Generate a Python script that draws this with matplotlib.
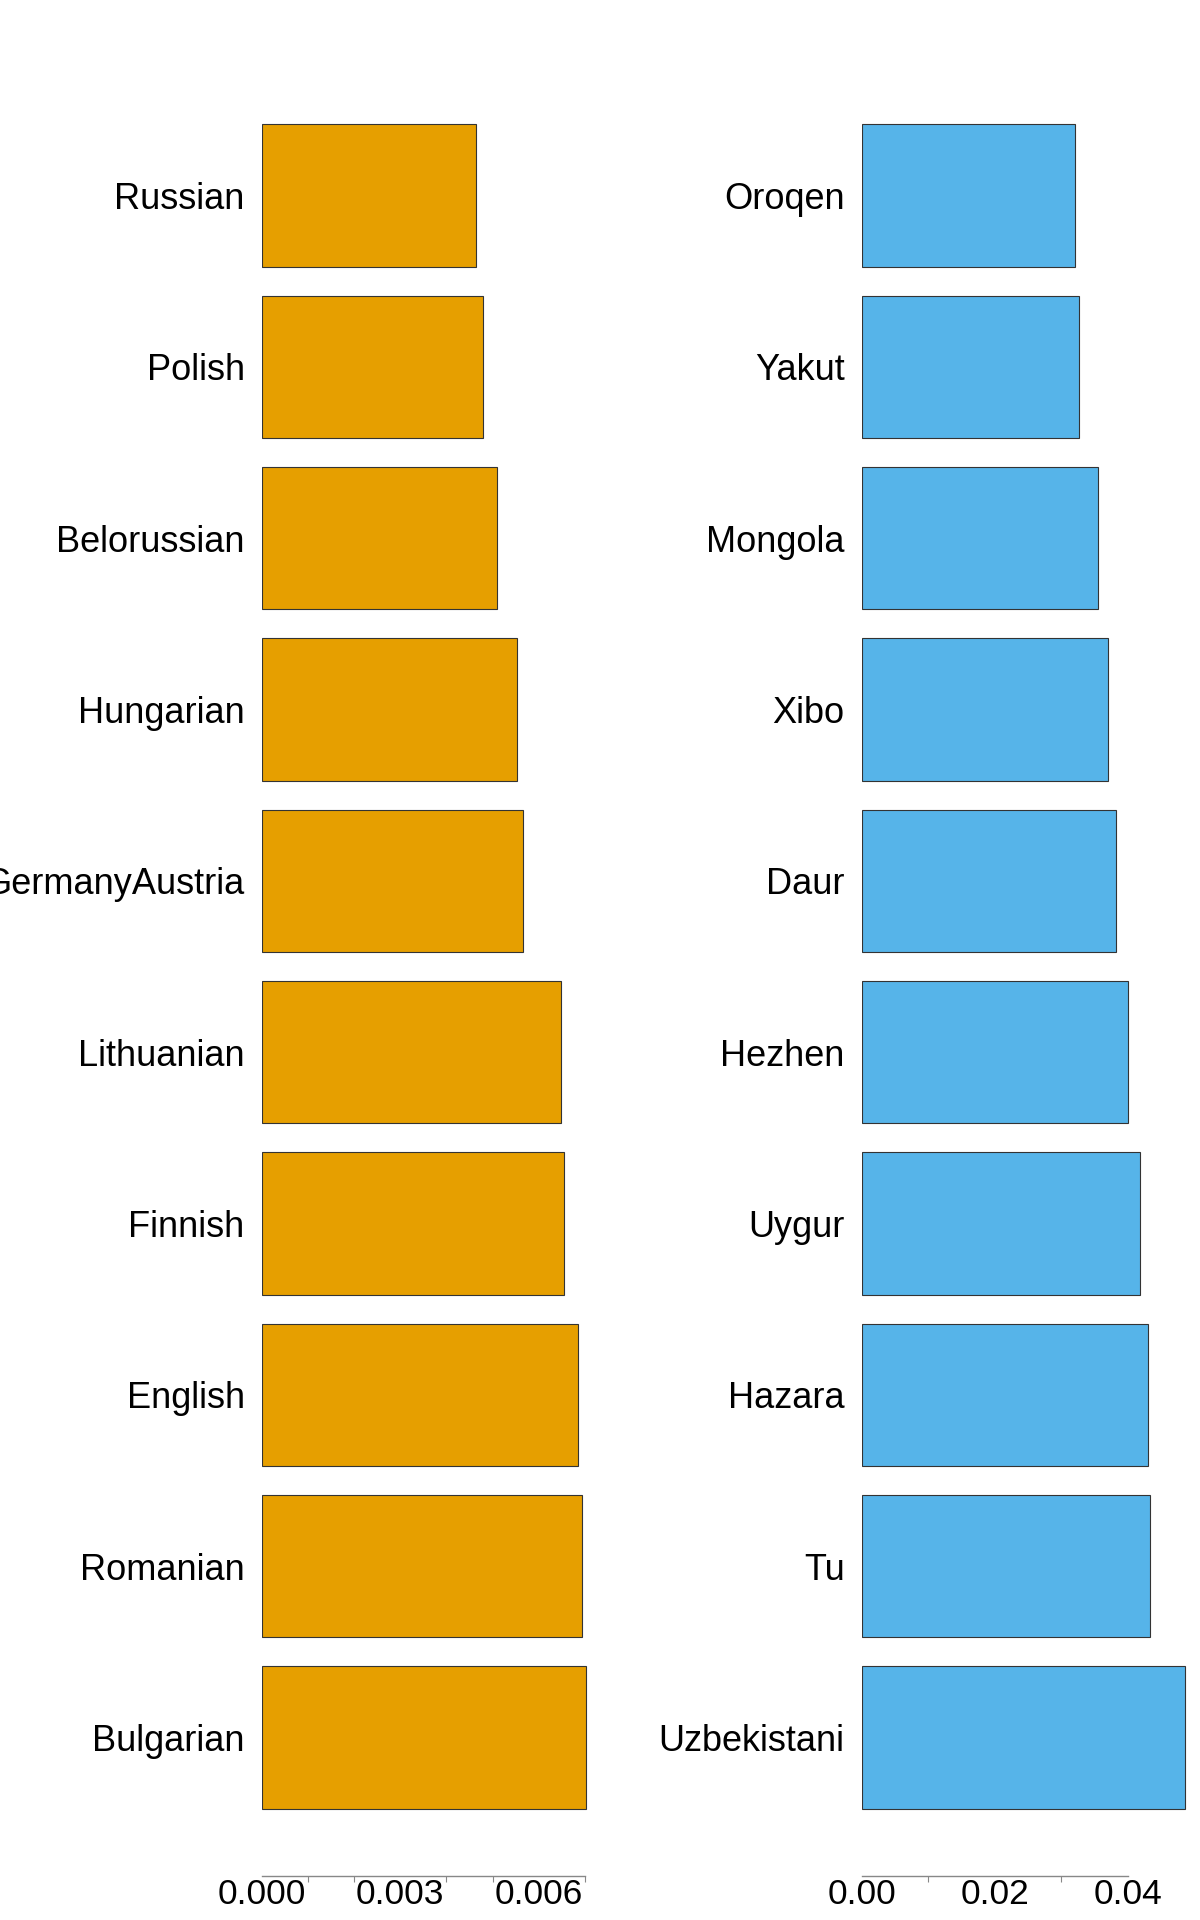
import numpy as np
import matplotlib
matplotlib.use("Agg")
import matplotlib.pyplot as plt
from matplotlib.ticker import FixedLocator

plt.rcParams['font.family'] = ['Liberation Sans', 'DejaVu Sans']

left_cats = ["Russian", "Polish", "Belorussian", "Hungarian", "GermanyAustria",
             "Lithuanian", "Finnish", "English", "Romanian", "Bulgarian"]
left_vals = [0.00464, 0.00479, 0.00510, 0.00552, 0.00566,
             0.00648, 0.00656, 0.00686, 0.00695, 0.00702]

right_cats = ["Oroqen", "Yakut", "Mongola", "Xibo", "Daur",
              "Hezhen", "Uygur", "Hazara", "Tu", "Uzbekistani"]
right_vals = [0.0321, 0.0327, 0.0356, 0.0371, 0.0383,
              0.0401, 0.0418, 0.0431, 0.0433, 0.0486]

left_major = [0.0, 0.003, 0.006]
left_major_labels = ["0.000", "0.003", "0.006"]
left_minor = [0.001, 0.002, 0.004, 0.005, 0.007]
right_major = [0.0, 0.02, 0.04]
right_major_labels = ["0.00", "0.02", "0.04"]
right_minor = [0.01, 0.03]

W, H = 1200, 1920
fig = plt.figure(figsize=(W / 100, H / 100), dpi=100)

bottom_px, top_px = 1876, 57
ax_h = (bottom_px - top_px) / H
ax_b = (H - bottom_px) / H
pad_units = 0.808


def panel(x0_px, cats, vals, color, xmax, major, major_labels, minor, spine_end):
    ax = fig.add_axes([x0_px / W, ax_b, 332 / W, ax_h])
    y = np.arange(len(cats))
    ax.barh(y, vals, height=0.83, color=color, edgecolor='#333333', linewidth=0.8)
    ax.set_ylim(len(cats) - 1 + pad_units, -pad_units)
    ax.set_xlim(0, xmax)
    ax.set_yticks(y)
    ax.set_yticklabels(cats, fontsize=26)
    ax.tick_params(axis='y', length=0, pad=12.5)
    for s in ['top', 'right', 'left']:
        ax.spines[s].set_visible(False)
    ax.spines['bottom'].set_color('#888888')
    ax.spines['bottom'].set_linewidth(1.0)
    ax.spines['bottom'].set_bounds(0, spine_end)
    ax.xaxis.set_major_locator(FixedLocator(major))
    ax.set_xticklabels(major_labels, fontsize=25.5)
    ax.xaxis.set_minor_locator(FixedLocator(minor))
    ax.tick_params(axis='x', which='major', length=0, pad=1.5)
    ax.tick_params(axis='x', which='minor', length=4.3, width=0.8, color='#888888')
    ax.set_facecolor('none')
    return ax


panel(262, left_cats, left_vals, '#E69F00', 0.0072, left_major, left_major_labels, left_minor, 0.007)
panel(862, right_cats, right_vals, '#56B4E9', 0.05, right_major, right_major_labels, right_minor, 0.04)

fig.savefig("out.png", dpi=100, facecolor='white')
